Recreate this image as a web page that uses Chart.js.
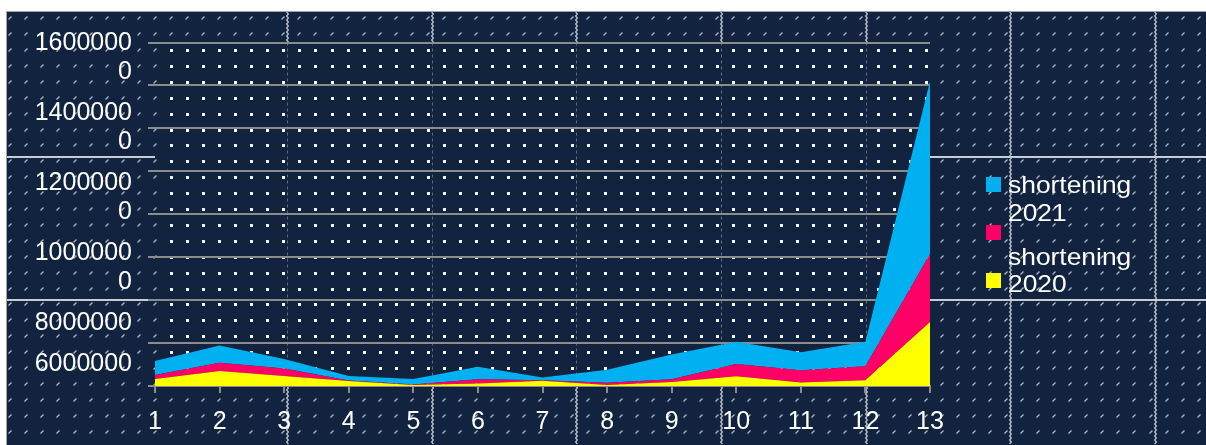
<!DOCTYPE html>
<html>
<head>
<meta charset="utf-8">
<title>shortening</title>
<script src="https://cdn.jsdelivr.net/npm/chart.js@4.4.1/dist/chart.umd.min.js"></script>
<style>
    html, body { margin: 0; padding: 0; background: #ffffff; }
    #wrap {
        position: absolute; left: 6px; top: 11px;
        width: 1199px; height: 433px;
        border-top: 1px solid #a3a3a3; border-left: 1px solid #a3a3a3;
        background: #11233f;
    }
    canvas { display: block; }
</style>
</head>
<body>
<div id="wrap"><canvas id="grafico" width="1199" height="433"></canvas></div>
<script>
// Datos del gráfico
const categorias = ['1', '2', '3', '4', '5', '6', '7', '8', '9', '10', '11', '12', '13'];
const shorteningBase = [330000, 700000, 470000, 230000, 50000, 120000, 240000, 50000, 190000, 450000, 160000, 270000, 2980000];
const shortening2020 = [180000, 380000, 340000, 30000, 20000, 190000, 30000, 100000, 120000, 570000, 570000, 650000, 3170000];
const shortening2021 = [650000, 810000, 450000, 210000, 260000, 590000, 130000, 610000, 1160000, 1040000, 840000, 1140000, 8040000];
const etiquetasSerie = ['', 'shortening 2020', 'shortening 2021'];
const etiquetasY = ['16000000', '14000000', '12000000', '10000000', '8000000', '6000000', '4000000'];
const yMax = 16000000;
const yPaso = 2000000;

const FUENTE = 'Liberation Sans, Arial, sans-serif';
const GRIS = '#8c8c8c';

// Fondo: azul oscuro con puntos y costuras de la textura
const fondo = {
    id: 'fondo',
    beforeDraw(chart) {
        const { ctx, width, height, chartArea: a } = chart;
        ctx.save();
        ctx.fillStyle = '#11233f';
        ctx.fillRect(0, 0, width, height);

        // costuras verticales
        for (let x = 135.3 + 144.67; x < width; x += 144.67) {
            const px = Math.round(x) + 0.5;
            const tramos = x < a.right ? [[0, a.top], [a.bottom, height]] : [[0, height]];
            ctx.strokeStyle = '#c3c9d2';
            ctx.lineWidth = 1.2;
            tramos.forEach(([y0, y1]) => {
                ctx.beginPath();
                for (let y = y0, i = 0; y <= y1; y += 2, i++) {
                    const dx = (i % 2 ? 0.9 : -0.9);
                    if (i === 0) ctx.moveTo(px + dx, y); else ctx.lineTo(px + dx, y);
                }
                ctx.stroke();
            });
            if (x < a.right) {
                ctx.strokeStyle = '#5f6c80';
                ctx.lineWidth = 1;
                ctx.setLineDash([3, 3]);
                ctx.beginPath();
                ctx.moveTo(px, a.top);
                ctx.lineTo(px, a.bottom);
                ctx.stroke();
                ctx.setLineDash([]);
            }
        }

        // costuras horizontales (solo fuera del área del gráfico)
        ctx.strokeStyle = '#c8ccd3';
        ctx.lineWidth = 2;
        [145, 288].forEach(y => {
            ctx.beginPath();
            ctx.moveTo(0, y); ctx.lineTo(a.left, y);
            ctx.moveTo(a.right, y); ctx.lineTo(width, y);
            ctx.stroke();
        });

        // puntos
        ctx.strokeStyle = '#aab2bf';
        ctx.lineWidth = 1.4;
        ctx.beginPath();
        for (let y = 6.2; y < height; y += 15.9) {
            for (let x = 3.3; x < width; x += 16.06) {
                const px = Math.round(x), py = Math.round(y);
                const dentro = px > a.left + 3 && px < a.right - 2 && py > a.top + 2 && py < a.bottom - 2;
                if (dentro) {
                    ctx.fillStyle = '#f4f6f9';
                    ctx.fillRect(px - 1, py - 1, 3, 3);
                } else {
                    ctx.moveTo(px - 1.5, py + 1.5);
                    ctx.lineTo(px + 1.5, py - 1.5);
                }
            }
        }
        ctx.stroke();
        ctx.restore();
    }
};

// Coloca las etiquetas del eje Y una debajo de otra (las largas en dos líneas)
const etiquetasEje = {
    id: 'etiquetasEje',
    afterLayout(chart) {
        const s = chart.scales.yl;
        const ticks = [];
        let linea = s.top + 1;
        etiquetasY.forEach(txt => {
            const partes = txt.length > 7 ? [txt.slice(0, 7), txt.slice(7)] : [txt];
            const centro = linea + (partes.length - 1) * 29 / 2;
            if (centro < s.bottom) {
                ticks.push({ value: s.getValueForPixel(centro), label: partes });
            }
            linea += (partes.length - 1) * 29 + 41;
        });
        s.ticks = ticks;
    }
};

// Leyenda a la derecha, recortada por abajo
const leyenda = {
    id: 'leyenda',
    afterDraw(chart) {
        const { ctx, chartArea: a } = chart;
        const sets = chart.data.datasets.slice().reverse();
        const boxX = a.right + 56;
        const textX = boxX + 22;
        ctx.save();
        sets.forEach((ds, i) => {
            ctx.fillStyle = ds.backgroundColor;
            ctx.fillRect(boxX, 165 + i * 48, 15, 15);
        });
        ctx.beginPath();
        ctx.rect(textX - 2, 150, 200, 130);
        ctx.clip();
        ctx.fillStyle = '#ffffff';
        ctx.font = '24px ' + FUENTE;
        ctx.textBaseline = 'alphabetic';
        let base = 181.3;
        sets.forEach(ds => {
            const lineas = ds.label ? ds.label.split(' ') : [];
            lineas.forEach((l, j) => {
                ctx.save();
                ctx.translate(textX, base);
                ctx.scale(1.1, 1);
                ctx.fillText(l, 0, 0);
                ctx.restore();
                if (j < lineas.length - 1) base += 27.4;
            });
            base += 44.3;
        });
        ctx.restore();
    }
};

const ctx = document.getElementById('grafico').getContext('2d');
const myChart = new Chart(ctx, {
    type: 'line',
    data: {
        labels: categorias,
        datasets: [
            { label: etiquetasSerie[0], data: shorteningBase, backgroundColor: '#ffff00', fill: 'origin' },
            { label: etiquetasSerie[1], data: shortening2020, backgroundColor: '#ff0066', fill: '-1' },
            { label: etiquetasSerie[2], data: shortening2021, backgroundColor: '#00b0f0', fill: '-1' }
        ]
    },
    options: {
        responsive: false,
        animation: false,
        layout: { padding: { top: 30, right: 276, left: 0, bottom: 0 } },
        elements: {
            line: { borderWidth: 0, tension: 0 },
            point: { radius: 0 }
        },
        plugins: {
            legend: { display: false },
            tooltip: { enabled: false }
        },
        scales: {
            x: {
                offset: false,
                grid: { drawOnChartArea: false, color: GRIS, lineWidth: 2, tickLength: 7 },
                border: { color: GRIS, width: 2 },
                ticks: { color: '#ffffff', font: { family: FUENTE, size: 25 }, padding: 14, maxRotation: 0, autoSkip: false },
                afterFit: s => { s.height = 59; }
            },
            y: {
                stacked: true,
                min: 0,
                max: yMax,
                ticks: { stepSize: yPaso, display: false },
                grid: { color: GRIS, lineWidth: 2, tickLength: 7 },
                border: { display: false },
                afterFit: s => { s.width = 7; }
            },
            yl: {
                type: 'linear',
                axis: 'y',
                position: 'left',
                weight: 1,
                min: 0,
                max: yMax,
                grid: { display: false, drawTicks: false },
                border: { display: false },
                ticks: { color: '#ffffff', font: { family: FUENTE, size: 25, lineHeight: 1.16 }, padding: 16 },
                afterFit: s => { s.width = 141; }
            }
        }
    },
    plugins: [fondo, etiquetasEje, leyenda]
});
</script>
</body>
</html>
